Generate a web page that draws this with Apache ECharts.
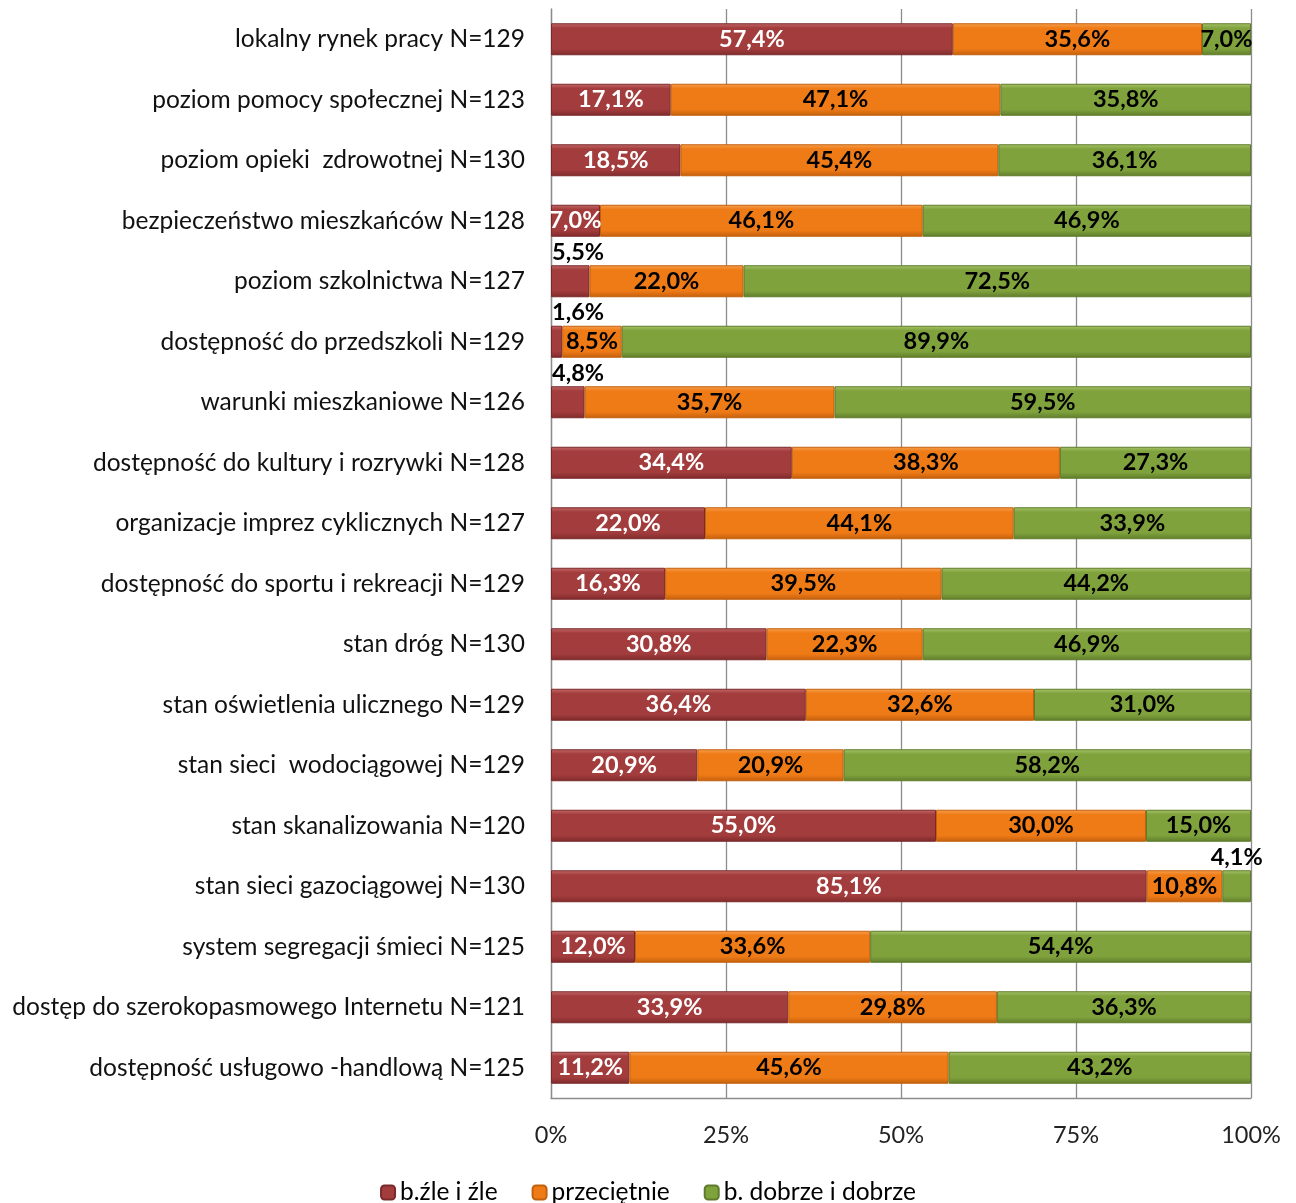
<!DOCTYPE html>
<html><head><meta charset="utf-8">
<script src="https://cdn.jsdelivr.net/npm/echarts@6/dist/echarts.min.js"></script>
<style>html,body{margin:0;padding:0;background:#fff}#c{width:1296px;height:1203px}</style>
</head><body><div id="c"></div>
<script>
const categories = [
 "lokalny rynek pracy N=129",
 "poziom pomocy społecznej N=123",
 "poziom opieki  zdrowotnej N=130",
 "bezpieczeństwo mieszkańców N=128",
 "poziom szkolnictwa N=127",
 "dostępność do przedszkoli N=129",
 "warunki mieszkaniowe N=126",
 "dostępność do kultury i rozrywki N=128",
 "organizacje imprez cyklicznych N=127",
 "dostępność do sportu i rekreacji N=129",
 "stan dróg N=130",
 "stan oświetlenia ulicznego N=129",
 "stan sieci  wodociągowej N=129",
 "stan skanalizowania N=120",
 "stan sieci gazociągowej N=130",
 "system segregacji śmieci N=125",
 "dostęp do szerokopasmowego Internetu N=121",
 "dostępność usługowo -handlową N=125"
];
const seriesNames = ["b.źle i źle", "przeciętnie", "b. dobrze i dobrze"];
const bad    = [57.4,17.1,18.5,7.0,5.5,1.6,4.8,34.4,22.0,16.3,30.8,36.4,20.9,55.0,85.1,12.0,33.9,11.2];
const medium = [35.6,47.1,45.4,46.1,22.0,8.5,35.7,38.3,44.1,39.5,22.3,32.6,20.9,30.0,10.8,33.6,29.8,45.6];
const good   = [7.0,35.8,36.1,46.9,72.5,89.9,59.5,27.3,33.9,44.2,46.9,31.0,58.2,15.0,4.1,54.4,36.3,43.2];
const xTicks = [0,25,50,75,100];

const FONT = "Lato";
function grad(top, mid, bot){
  return new echarts.graphic.LinearGradient(0,0,0,1,[
    {offset:0,color:top},{offset:0.15,color:mid},{offset:0.8,color:mid},{offset:1,color:bot}]);
}
const colors = [
  {fill:grad('#c66a69','#a23c3d','#7f2a2b'), border:'#7a2a2b', legend:'#a23c3d'},
  {fill:grad('#f7a14f','#ef7b17','#c35f0c'), border:'#c2600e', legend:'#ef7b17'},
  {fill:grad('#a8c56b','#80a23d','#5f7d2a'), border:'#5f7b2b', legend:'#80a23d'}
];
const fmt = v => v.toFixed(1).replace('.', ',') + '%';
const outsideThreshold = 6;

function makeData(arr, si){
  return arr.map((v,i)=>{
    const d = {value:v};
    if (v < outsideThreshold && !(si===2 && i===0)) {
      d.label = (si===2)
        ? {position:'top', distance:1, color:'#000', align:'center', offset:[-6,0]}
        : {position:[1,-25], align:'left', color:'#000'};
    }
    if (si===2 && i===0) d.label = {offset:[5,0]};
    return d;
  });
}

const chart = echarts.init(document.getElementById('c'), null, {renderer:'canvas'});
const series = [bad, medium, good].map((arr, si)=>({
  name: seriesNames[si],
  type:'bar',
  stack:'total',
  barWidth: 32,
  data: makeData(arr, si),
  itemStyle:{color:colors[si].fill, borderColor:colors[si].border, borderWidth:1},
  label:{
    show:true, position:'inside',
    formatter: p => fmt(p.value),
    color: si===0 ? '#fff' : '#000',
    fontFamily: FONT, fontWeight:'bold', fontSize:23.5
  },
  labelLayout: {hideOverlap:false}
}));

chart.setOption({
  animation:false,
  backgroundColor:'#fff',
  grid:{left:551, right:45, top:9, bottom:105, containLabel:false},
  legend:{
    top:1175, left:'center',
    itemWidth:14, itemHeight:14, itemGap:34, itemTextGap:4,
    textStyle:{fontFamily:FONT, fontSize:24.5, color:'#000'},
    data: seriesNames.map((n,i)=>({name:n, itemStyle:{color:colors[i].legend}}))
  },
  xAxis:{
    type:'value', min:0, max:100, interval:25,
    axisLabel:{formatter:'{value}%', fontFamily:FONT, fontSize:23.5, color:'#222', margin:25},
    splitLine:{show:true, lineStyle:{color:'#8c8c8c', width:1.3}},
    axisLine:{show:true, lineStyle:{color:'#8c8c8c', width:1.3}},
    axisTick:{show:false}
  },
  yAxis:{
    type:'category', inverse:true, data:categories,
    axisLabel:{fontFamily:FONT, fontSize:24.5, color:'#111', margin:26},
    axisLine:{show:true, lineStyle:{color:'#8c8c8c', width:1.3}},
    axisTick:{show:false}
  },
  series
});
</script></body></html>
